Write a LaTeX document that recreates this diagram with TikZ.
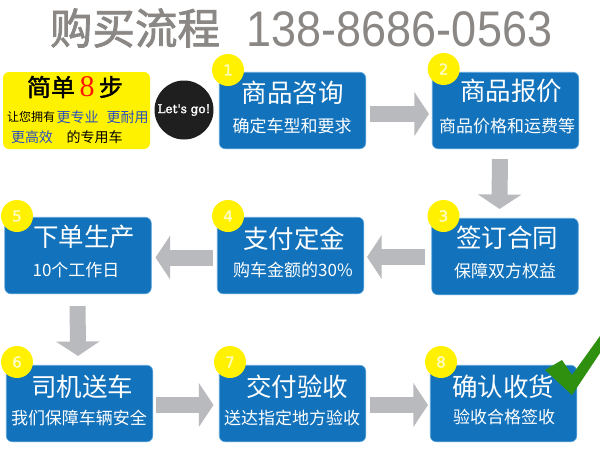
\documentclass[tikz,border=0pt]{standalone}
\usepackage{fontspec}
\setmainfont{Noto Sans CJK SC}
\newfontfamily\cjkfat[FakeBold=1.8]{Noto Sans CJK SC}
\newfontfamily\latinfont{Liberation Sans}
\newfontfamily\badgefont[FakeBold=2]{DejaVu Sans}
\newfontfamily\serifdisp{Liberation Serif}
\newfontfamily\slabfont[FakeBold=2]{DejaVu Serif}
\usetikzlibrary{arrows.meta}
\definecolor{boxblue}{HTML}{1272BB}
\definecolor{boxedge}{HTML}{5CA5DC}
\definecolor{badgeyellow}{HTML}{FFF100}
\definecolor{badgetext}{HTML}{FFFCC0}
\definecolor{arrowgray}{HTML}{B9BABD}
\definecolor{titlegray}{HTML}{8A8785}
\definecolor{checkgreen}{HTML}{2F8F0E}
\definecolor{notepurple}{HTML}{2A4FC0}
\tikzset{
  x=1pt,y=-1pt,
  stepbox/.style={fill=boxblue,draw=boxedge,line width=0.6pt,rounded corners=6pt,minimum width=146.5pt,minimum height=76.5pt,inner sep=0pt},
  badge/.style={circle,fill=badgeyellow,minimum size=32pt,inner sep=0pt,text=badgetext,font=\badgefont\fontsize{15}{15}\selectfont},
  head/.style={text=white,inner sep=0pt,font=\fontsize{25.5}{26}\selectfont},
  sub/.style={text=white,inner sep=0pt,font=\fontsize{17}{18}\selectfont},
  blockarrow/.style={line width=16pt,arrowgray,-{Triangle[length=14.5pt,width=43pt]}},
  note/.style={inner sep=0pt,font=\fontsize{12.5}{13}\selectfont},
}
\begin{document}
\begin{tikzpicture}
\useasboundingbox (0,0) rectangle (600,450);
\fill[white] (0,0) rectangle (600,450);
% header
\node[inner sep=0pt,text=titlegray,font=\cjkfat\fontsize{42.5}{43}\selectfont] (title) at (135,28) {购买流程};
\node[inner sep=0pt,text=titlegray,font=\latinfont\fontsize{50}{50}\selectfont] (phone) at (399.5,29) {\scalebox{0.9}[1]{138-8686-0563}};
% intro
\node[fill=yellow,rounded corners=6pt,minimum width=147pt,minimum height=77pt,inner sep=0pt] (intro) at (76.5,110.5) {};
\node[inner sep=0pt,font=\cjkfat\fontsize{24}{24}\selectfont] (ia) at (51,87) {简单};
\node[inner sep=0pt,text=red!80!orange,font=\serifdisp\fontsize{30}{30}\selectfont] (ib) at (87,87) {8};
\node[inner sep=0pt,font=\cjkfat\fontsize{24}{24}\selectfont] (ic) at (111,87) {步};
\node[note,font=\fontsize{12}{12}\selectfont] (id) at (31,117) {让您拥有};
\node[note,text=notepurple,font=\fontsize{14}{14}\selectfont] (ie) at (77.5,117) {更专业};
\node[note,text=notepurple,font=\fontsize{14}{14}\selectfont] (if) at (127.5,117) {更耐用};
\node[note,text=notepurple,font=\fontsize{14}{14}\selectfont] (ig) at (32,137) {更高效};
\node[note,font=\fontsize{14}{14}\selectfont] (ih) at (94.5,137) {的专用车};
\node[circle,fill=black!88,minimum size=59pt,inner sep=0pt,text=white,font=\slabfont\fontsize{12}{12}\selectfont] (go) at (184,110) {Let's go!};
% boxes
\node[stepbox] (n1) at (292.5,110.5) {};
\node[stepbox] (n2) at (505.5,110.5) {};
\node[stepbox] (n3) at (505,256.5) {};
\node[stepbox] (n4) at (290.5,255.5) {};
\node[stepbox] (n5) at (78,255.5) {};
\node[stepbox] (n6) at (79.5,403.5) {};
\node[stepbox] (n7) at (292.5,403.5) {};
\node[stepbox] (n8) at (503.5,403.5) {};
% arrows
\draw[blockarrow,shorten <=4pt] ([yshift=-3.5pt]n1.east) -- ([xshift=-3pt,yshift=-3.5pt]n2.west);
\draw[blockarrow,shorten <=10pt] ([xshift=-5.5pt]n2.south) -- ([xshift=-5.5pt,yshift=9pt]n3.north);
\draw[blockarrow,shorten <=6pt] ([yshift=-0.5pt]n3.west) -- ([xshift=3pt,yshift=-1.5pt]n4.east);
\draw[blockarrow,shorten <=4pt] ([yshift=-2pt]n4.west) -- ([xshift=4pt,yshift=-2pt]n5.east);
\draw[blockarrow,shorten <=12pt] ([xshift=-0.5pt]n5.south) -- ([xshift=0pt,yshift=9pt]n6.north-|n5.south);
\draw[blockarrow,shorten <=3pt] ([yshift=-1.5pt]n6.east) -- ([xshift=-5.5pt,yshift=-1.5pt]n7.west);
\draw[blockarrow,shorten <=4pt] ([yshift=-1.5pt]n7.east) -- ([xshift=-2pt,yshift=-1.5pt]n8.west);
% badges
\node[badge] (b1) at (228,70) {1};
\node[badge] (b2) at (443.7,69) {2};
\node[badge] (b3) at (443.5,216) {3};
\node[badge] (b4) at (228,216) {4};
\node[badge] (b5) at (17,216) {5};
\node[badge] (b6) at (17,362) {6};
\node[badge] (b7) at (230,362) {7};
\node[badge] (b8) at (441,362) {8};
% texts
\node[head] (h1) at (292.5,93) {商品咨询};
\node[sub] (s1) at (292,126) {确定车型和要求};
\node[head] (h2) at (511,91) {商品报价};
\node[sub] (s2) at (507,126) {商品价格和运费等};
\node[head] (h3) at (507,238) {签订合同};
\node[sub] (s3) at (505,271) {保障双方权益};
\node[head] (h4) at (294,239) {支付定金};
\node[sub] (s4) at (293,270) {购车金额的30\%};
\node[head] (h5) at (84,237) {下单生产};
\node[sub] (s5) at (76,270) {10个工作日};
\node[head] (h6) at (82,387) {司机送车};
\node[sub] (s6) at (79,418) {我们保障车辆安全};
\node[head] (h7) at (297,387) {交付验收};
\node[sub] (s7) at (292,418) {送达指定地方验收};
\node[head] (h8) at (503,387) {确认收货};
\node[sub] (s8) at (504,417) {验收合格签收};
% check mark
\fill[checkgreen] (545,370) -- (562,360) -- (572,375) -- (600,336) -- (600,353) -- (572,395) -- cycle;
\end{tikzpicture}
\end{document}
